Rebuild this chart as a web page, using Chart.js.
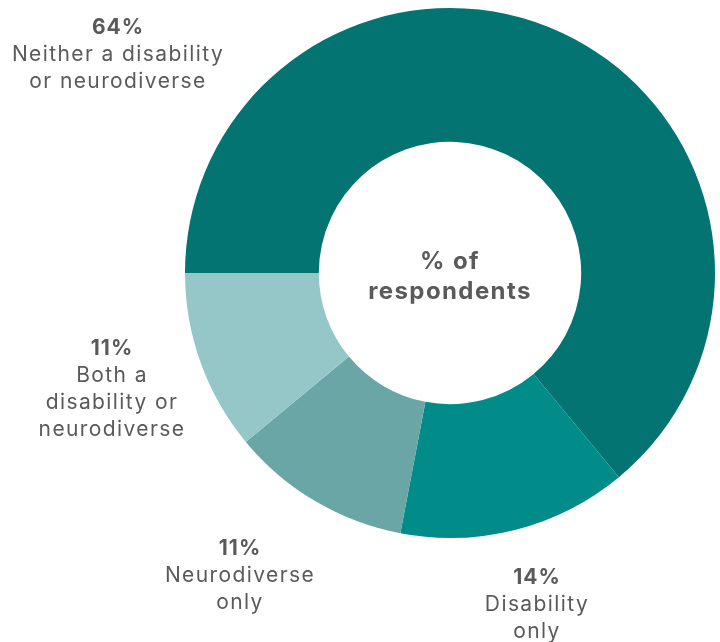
<!DOCTYPE html>
<html>
<head>
<meta charset="utf-8">
<script src="https://cdn.jsdelivr.net/npm/chart.js@4.4.1/dist/chart.umd.min.js"></script>
<style>
  html, body { margin: 0; padding: 0; background: #ffffff; }
  #wrap { width: 720px; height: 642px; position: relative; }
</style>
</head>
<body>
<div id="wrap"><canvas id="c" width="720" height="642"></canvas></div>
<script>
const categories = ["Neither a disability or neurodiverse", "Disability only", "Neurodiverse only", "Both a disability or neurodiverse"];
const values = [64, 14, 11, 11];
const valueLabels = ["64%", "14%", "11%", "11%"];
const labelLines = [
  ["Neither a disability", "or neurodiverse"],
  ["Disability", "only"],
  ["Neurodiverse", "only"],
  ["Both a", "disability or", "neurodiverse"]
];
const colors = ["#037471", "#018c8a", "#6aa6a5", "#95c7c8"];
const centerText = ["% of", "respondents"];

const FONT = "Inter, 'Open Sans', sans-serif";
const TEXT = "#5a5a5a";

// label anchor positions (px offsets from donut centre) -- layout only
const labelOffsets = [[-332, -245], [87, 305], [-210, 276], [-338, 76]];

const labelPlugin = {
  id: 'outerLabels',
  afterDraw(chart) {
    const ctx = chart.ctx;
    const meta = chart.getDatasetMeta(0);
    ctx.save();
    ctx.textAlign = 'center';
    ctx.textBaseline = 'middle';
    meta.data.forEach((arc, i) => {
      const cx = arc.x + labelOffsets[i][0];
      let cy = arc.y + labelOffsets[i][1];
      ctx.fillStyle = TEXT;
      ctx.letterSpacing = '1px';
      ctx.font = "bold 21px " + FONT;
      ctx.fillText(valueLabels[i], cx, cy);
      ctx.font = "21px " + FONT;
      ctx.letterSpacing = '1.4px';
      labelLines[i].forEach((ln, k) => {
        ctx.fillText(ln, cx, cy + 27 * (k + 1));
      });
    });
    const a = meta.data[0];
    ctx.font = "bold 24px " + FONT;
    ctx.letterSpacing = '1.4px';
    ctx.fillStyle = TEXT;
    ctx.fillText(centerText[0], a.x, a.y - 11);
    ctx.fillText(centerText[1], a.x, a.y + 19);
    ctx.restore();
  }
};

new Chart(document.getElementById('c'), {
  type: 'doughnut',
  data: {
    labels: categories,
    datasets: [{
      data: values,
      backgroundColor: colors,
      borderWidth: 0
    }]
  },
  options: {
    responsive: false,
    animation: false,
    rotation: 270,
    cutout: '49.5%',
    layout: { padding: { left: 185, right: 5, top: 8, bottom: 104 } },
    plugins: {
      legend: { display: false },
      tooltip: { enabled: false }
    }
  },
  plugins: [labelPlugin]
});
</script>
</body>
</html>
